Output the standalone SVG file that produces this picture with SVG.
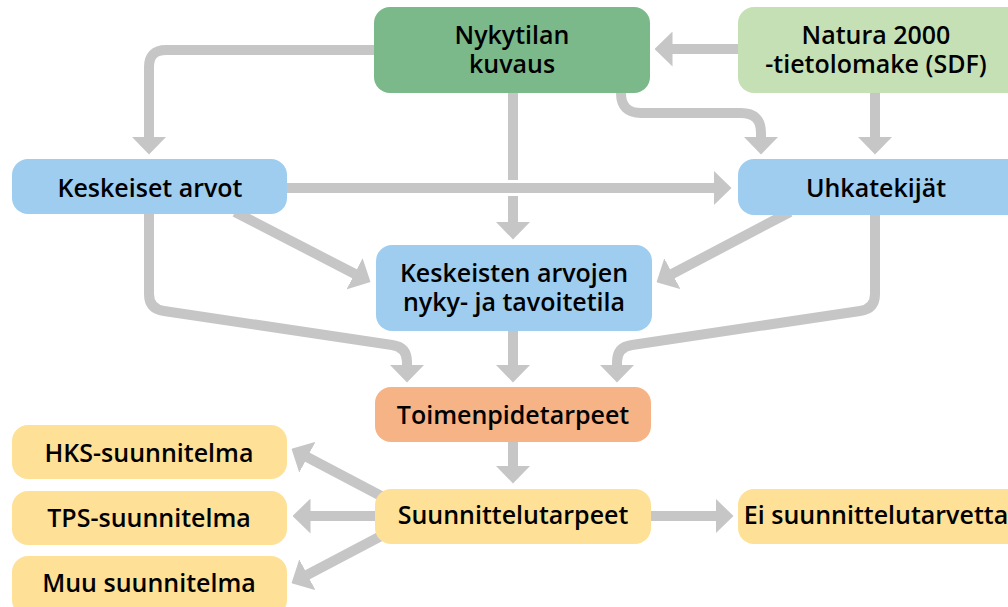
<svg xmlns="http://www.w3.org/2000/svg" width="1008" height="607" viewBox="0 0 1008 607">
<defs>
<marker id="ah" viewBox="0 0 18 35" refX="0.5" refY="17.5" markerWidth="18" markerHeight="35" markerUnits="userSpaceOnUse" orient="auto">
<path d="M0,0 L18,17.5 L0,35 Z" fill="#c6c6c6"/>
</marker>
<style>
.c{fill:none;stroke:#c6c6c6;stroke-width:10;stroke-linejoin:round}
.a{marker-end:url(#ah)}
.gap{fill:none;stroke:#ffffff;stroke-width:16}
.t{font-family:"Open Sans","Noto Sans","DejaVu Sans",sans-serif;font-weight:600;font-size:25px;fill:#000;text-anchor:middle}
.g1{fill:#7bb98a}.g2{fill:#c5e0b4}.b{fill:#9ecdf0}.o{fill:#f5b386}.y{fill:#fee197}
</style>
</defs>
<rect width="1008" height="607" fill="#ffffff"/>
<g id="connectors">
<path class="c a" d="M374,50 H166 Q149,50 149,67 V137"/>
<path class="c a" d="M738,49 H672"/>
<path class="c a" d="M513,93 V222"/>
<path class="c a" d="M621,93 Q621,113 641,113 H741 Q761,113 761,133 V137"/>
<path class="c a" d="M875,93 V137"/>
<path class="gap" d="M287,188 H712"/>
<path class="c a" d="M287,188 H714"/>
<path class="c a" d="M235,212 L355,274"/>
<path class="c a" d="M790,212 L672,274"/>
<path class="c a" d="M149,214 V294 Q149,309 164,311 L392,345 Q407,347 407,362 V365"/>
<path class="c a" d="M875,215 V294 Q875,309 860,311 L632,345 Q617,347 617,362 V365"/>
<path class="c a" d="M513,331 V365"/>
<path class="c a" d="M513,442 V466"/>
<path class="c a" d="M651,516 H716"/>
<path class="c a" d="M375,516 H310"/>
<path class="c a" d="M383,497 L307,457"/>
<path class="c a" d="M383,535 L307,575"/>
</g>
<g id="nykytila"><rect class="g1" x="374" y="7" width="276" height="86" rx="16"/><text class="t" x="512" y="44">Nykytilan</text><text class="t" x="512" y="73">kuvaus</text></g>
<g id="natura"><rect class="g2" x="738" y="7" width="290" height="86" rx="16"/><text class="t" x="876" y="44">Natura 2000</text><text class="t" x="876" y="73">-tietolomake (SDF)</text></g>
<g id="keskeiset"><rect class="b" x="12" y="159" width="275" height="55" rx="16"/><text class="t" x="150" y="197">Keskeiset arvot</text></g>
<g id="uhkatekijat"><rect class="b" x="738" y="159" width="290" height="56" rx="16"/><text class="t" x="876" y="197">Uhkatekijät</text></g>
<g id="tila"><rect class="b" x="376" y="245" width="276" height="86" rx="16"/><text class="t" x="514" y="282">Keskeisten arvojen</text><text class="t" x="514" y="311">nyky- ja tavoitetila</text></g>
<g id="toimenpide"><rect class="o" x="375" y="387" width="276" height="55" rx="16"/><text class="t" x="513" y="424">Toimenpidetarpeet</text></g>
<g id="suunnittelu"><rect class="y" x="375" y="489" width="276" height="55" rx="16"/><text class="t" x="513" y="524">Suunnittelutarpeet</text></g>
<g id="ei"><rect class="y" x="738" y="489" width="290" height="55" rx="16"/><text class="t" x="876" y="524">Ei suunnittelutarvetta</text></g>
<g id="hks"><rect class="y" x="12" y="425" width="275" height="54" rx="16"/><text class="t" x="149" y="462">HKS-suunnitelma</text></g>
<g id="tps"><rect class="y" x="12" y="491" width="275" height="54" rx="16"/><text class="t" x="149" y="527">TPS-suunnitelma</text></g>
<g id="muu"><rect class="y" x="12" y="556" width="275" height="60" rx="16"/><text class="t" x="149" y="592">Muu suunnitelma</text></g>
</svg>
